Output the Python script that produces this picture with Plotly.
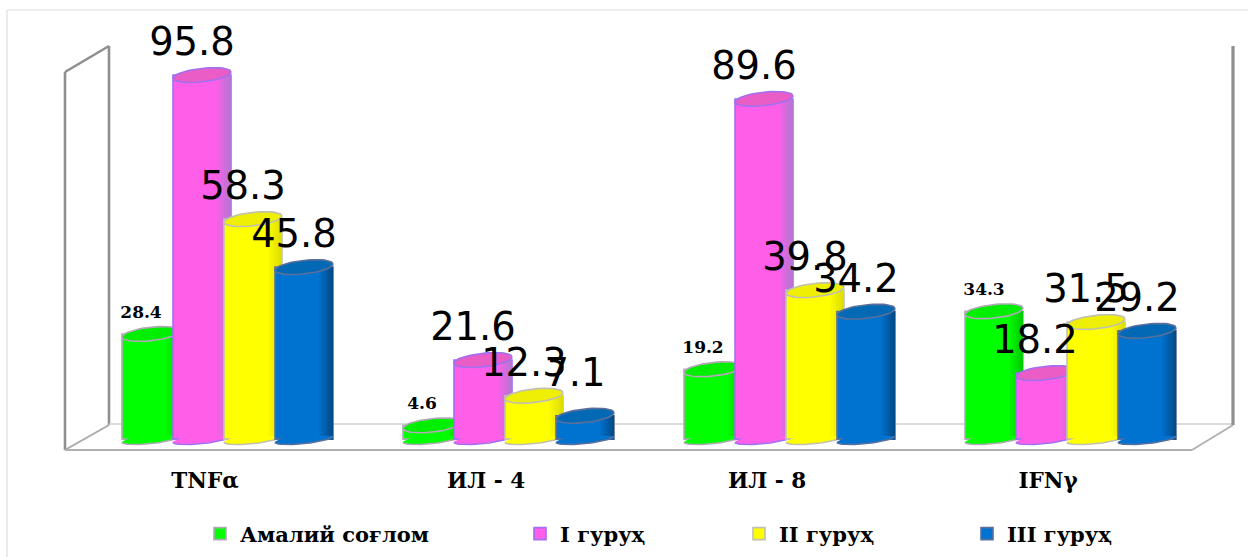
import numpy as np
import plotly.graph_objects as go

# Chart data
categories = ["TNFα", "ИЛ - 4", "ИЛ - 8", "IFNγ"]
series_names = ["Амалий соғлом", "I гуруҳ", "II гуруҳ", "III гуруҳ"]
healthy = [28.4, 4.6, 19.2, 34.3]
group_1 = [95.8, 21.6, 89.6, 18.2]
group_2 = [58.3, 12.3, 39.8, 31.5]
group_3 = [45.8, 7.1, 34.2, 29.2]
series_values = [healthy, group_1, group_2, group_3]

# Cylinder colours: body, top cap, outline, edge shade
body_colors = ["#00ff00", "#ff5fe8", "#ffff00", "#0073d1"]
cap_colors = ["#00ee00", "#ea5cc6", "#efef05", "#0369b5"]
line_colors = ["#b3a8b8", "#a070f0", "#c0c0b0", "#5a6f9a"]
shade_colors = ["#00c400", "#a87ad0", "#d8d800", "#00457f"]

# Pixel layout of the plotting area
W, H = 1248, 557
AXIS_PX = 450          # bottom of the plotting area
ZERO_PX = 443          # where value 0 falls
PX_PER_VALUE = 3.84
GROUP0_PX = 205
GROUP_STEP_PX = 281
SERIES_OFFSET_PX = [-54, -3, 48, 99]
BAR_WIDTH_PX = 58
FLOOR_VALUE = 1.0      # centre of the cylinder's bottom ellipse
LABEL_SHIFT_PX = -10
LEGEND_LEFT_PX = [200, 520, 739, 967]
LABEL_EXTRA_LIFT_PX = {(3, 1): 10}   # crowded label above the short blue bar

px_x = lambda px: px / GROUP_STEP_PX          # pixel length to x units
px_y = lambda px: px / PX_PER_VALUE           # pixel length to y units
paper_x = lambda px: px / W
paper_y = lambda py: (AXIS_PX - py) / AXIS_PX


def ellipse(cx, cy, half_w_px, half_h_px, t0=0.0, t1=2 * np.pi, tilt_deg=6.0):
    """Tilted ellipse arc around (cx, cy), returned in data coordinates."""
    t = np.linspace(t0, t1, 49)
    dx = half_w_px * np.cos(t)
    dy = half_h_px * np.sin(t) + dx * np.tan(np.radians(tilt_deg))
    return cx + px_x(dx), cy + px_y(dy)


def mix(c1, c2, t):
    a = [int(c1[i:i + 2], 16) for i in (1, 3, 5)]
    b = [int(c2[i:i + 2], 16) for i in (1, 3, 5)]
    return "#" + "".join(f"{round(p + (q - p) * t):02x}" for p, q in zip(a, b))


fig = go.Figure()
group_pos = np.arange(len(categories), dtype=float)
bar_w = px_x(BAR_WIDTH_PX)

for s, values in enumerate(series_values):
    vals = np.array(values)
    xc = group_pos + px_x(SERIES_OFFSET_PX[s])
    layer = s + 1

    # Cylinder body, each series with its own legend so entries can be placed freely
    fig.add_trace(go.Bar(
        x=xc, y=vals - FLOOR_VALUE, base=FLOOR_VALUE, width=bar_w,
        name=series_names[s], zorder=layer,
        legend="legend" if s == 0 else f"legend{s + 1}",
        marker=dict(color=body_colors[s], line=dict(color=line_colors[s], width=1.6)),
        hoverinfo="skip",
    ))
    # Darkening towards the right edge
    for k in range(6):
        f0 = 0.76 + 0.04 * k
        t = (k + 1) / 6 * 0.85
        fig.add_trace(go.Bar(
            x=xc + ((f0 + 1.0) / 2 - 0.5) * bar_w, y=vals - FLOOR_VALUE, base=FLOOR_VALUE,
            width=(1.0 - f0) * bar_w * 0.97, showlegend=False, zorder=layer,
            marker=dict(color=mix(body_colors[s], shade_colors[s], t), line=dict(width=0)),
            hoverinfo="skip",
        ))

    for i, v in enumerate(vals):
        # Rounded bottom: the fill hides the flat end of the bar, the rim follows the lower arc
        bx, by = ellipse(xc[i], FLOOR_VALUE, BAR_WIDTH_PX / 2, 4.5, 0.6 * np.pi, 2 * np.pi)
        fig.add_trace(go.Scatter(
            x=bx, y=by, mode="lines", fill="toself", fillcolor=body_colors[s],
            line=dict(width=0), showlegend=False, zorder=layer, hoverinfo="skip",
        ))
        sx, sy = ellipse(xc[i], FLOOR_VALUE, BAR_WIDTH_PX / 2, 4.5, 1.72 * np.pi, 2 * np.pi)
        fig.add_trace(go.Scatter(
            x=sx, y=sy, mode="lines", fill="toself",
            fillcolor=mix(body_colors[s], shade_colors[s], 0.55),
            line=dict(width=0), showlegend=False, zorder=layer, hoverinfo="skip",
        ))
        ex, ey = ellipse(xc[i], FLOOR_VALUE, BAR_WIDTH_PX / 2, 4.5, np.pi, 2 * np.pi)
        fig.add_trace(go.Scatter(
            x=ex, y=ey, mode="lines", line=dict(color=line_colors[s], width=1.6),
            showlegend=False, zorder=layer, hoverinfo="skip",
        ))
        # Top cap
        tx, ty = ellipse(xc[i], v, BAR_WIDTH_PX / 2, 6.8)
        fig.add_trace(go.Scatter(
            x=tx, y=ty, mode="lines", fill="toself", fillcolor=cap_colors[s],
            line=dict(color=line_colors[s], width=1.6), showlegend=False,
            zorder=layer, hoverinfo="skip",
        ))

# Value labels sit above every cylinder
for s, values in enumerate(series_values):
    vals = np.array(values)
    small = s == 0
    lift = np.array([px_y((12 if small else 10.5) + LABEL_EXTRA_LIFT_PX.get((s, i), 0))
                     for i in range(len(vals))])
    fig.add_trace(go.Scatter(
        x=group_pos + px_x(SERIES_OFFSET_PX[s] + LABEL_SHIFT_PX), y=vals + lift,
        mode="text", text=[f"{v:.1f}" for v in vals], textposition="top center",
        textfont=dict(family="DejaVu Serif", size=17, color="#000000", weight=700) if small
        else dict(family="DejaVu Sans", size=38.5, color="#000000"),
        showlegend=False, zorder=20, hoverinfo="skip",
    ))

# Chart-area border, walls and floor of the 3D box
WALL = "#8f8f8f"
FLOOR = "#cfcfcf"


def seg(x0, y0, x1, y1, color, width):
    return dict(type="line", xref="paper", yref="paper", layer="below",
                x0=paper_x(x0), y0=paper_y(y0), x1=paper_x(x1), y1=paper_y(y1),
                line=dict(color=color, width=width))


shapes = [
    seg(7, 10, 1248, 10, "#dddddd", 1.2),
    seg(7, 10, 7, 557, "#dddddd", 1.2),
    seg(65, 72, 65, 450, WALL, 2.6),
    seg(65, 72, 109, 46, WALL, 2.6),
    seg(109, 46, 109, 425, WALL, 2.6),
    seg(65, 450, 109, 425, "#aaaaaa", 2.0),
    seg(109, 424, 1233, 424, FLOOR, 1.6),
    seg(65, 450, 1192, 450, "#b0b0b0", 2.2),
    seg(1192, 450, 1233, 425, "#b0b0b0", 2.0),
    seg(1233, 46, 1233, 425, WALL, 3.2),
]

legend_font = dict(family="DejaVu Serif", size=21, color="#000000", weight=700)
legends = {
    ("legend" if s == 0 else f"legend{s + 1}"): dict(
        orientation="h", x=paper_x(LEGEND_LEFT_PX[s]), xanchor="left",
        y=paper_y(534), yanchor="middle", itemwidth=30,
        bgcolor="rgba(0,0,0,0)", font=legend_font,
    )
    for s in range(len(series_names))
}

fig.update_layout(
    width=W, height=H, autosize=False,
    margin=dict(l=0, r=0, t=0, b=H - AXIS_PX, pad=0),
    paper_bgcolor="#ffffff", plot_bgcolor="rgba(0,0,0,0)",
    barmode="overlay", shapes=shapes, hovermode=False,
    xaxis=dict(
        range=[-GROUP0_PX / GROUP_STEP_PX, (W - GROUP0_PX) / GROUP_STEP_PX],
        tickmode="array", tickvals=group_pos, ticktext=categories,
        showgrid=False, zeroline=False, showline=False, ticks="",
        ticklabelstandoff=15,
        tickfont=dict(family="DejaVu Serif", size=21.5, color="#000000", weight=700),
    ),
    yaxis=dict(
        range=[-(AXIS_PX - ZERO_PX) / PX_PER_VALUE, ZERO_PX / PX_PER_VALUE],
        showgrid=False, zeroline=False, showline=False, showticklabels=False, ticks="",
    ),
    showlegend=True,
    **legends,
)

fig.write_html("out.html", config={"displayModeBar": False})
